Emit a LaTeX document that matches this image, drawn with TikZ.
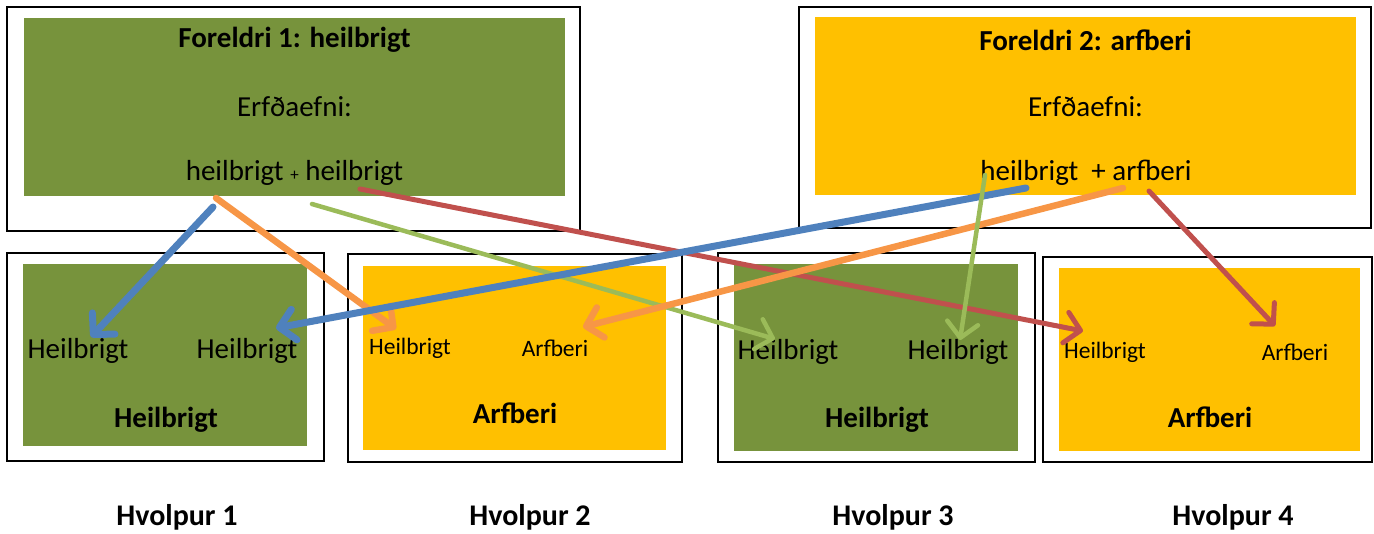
\documentclass[tikz,border=0pt]{standalone}
\usepackage{fontspec}
\setmainfont{Carlito}
\usetikzlibrary{arrows.meta}
\definecolor{cGreen}{HTML}{77933C}
\definecolor{cYellow}{HTML}{FFC000}
\definecolor{cBlue}{HTML}{4F81BD}
\definecolor{cOrange}{HTML}{F79646}
\definecolor{cLgreen}{HTML}{9BBB59}
\definecolor{cRed}{HTML}{C0504D}
\tikzset{
  frame/.style={draw=black, line width=2pt, fill=white},
  gfill/.style={fill=cGreen},
  yfill/.style={fill=cYellow},
  big/.style={inner sep=0pt, font=\fontsize{29}{34}\selectfont},
  bigb/.style={inner sep=0pt, font=\fontsize{29}{34}\selectfont\bfseries},
  small/.style={inner sep=0pt, font=\fontsize{23.5}{28}\selectfont},
  lab/.style={inner sep=0pt, font=\fontsize{30}{36}\selectfont\bfseries},
  arr/.style={-{Straight Barb[length=15pt,width=31pt,round]}, line cap=round},
}
\begin{document}
\begin{tikzpicture}[x=1pt,y=-1pt]
\useasboundingbox (0,0) rectangle (1374,533);
% parent boxes
\path[frame] (7,7) rectangle (580,231);
\path[gfill] (24,18) rectangle (565,196);
\path[frame] (799,7) rectangle (1371,228);
\path[yfill] (815,17) rectangle (1356,195);
% child boxes
\path[frame] (7,253) rectangle (324,461);
\path[gfill] (23,264) rectangle (307,446);
\path[frame] (348,254) rectangle (682,462);
\path[yfill] (363,266) rectangle (666,450);
\path[frame] (718,253) rectangle (1035,462);
\path[gfill] (734,264) rectangle (1018,451);
\path[frame] (1043,257) rectangle (1372,462);
\path[yfill] (1059,268) rectangle (1360,451);
% parent texts
\node[bigb] (p1t) at (294.5,40) {Foreldri 1: heilbrigt};
\node[big]  (p1e) at (294.5,107) {Erfðaefni:};
\node[big]  (p1g) at (294.5,173) {heilbrigt {\fontsize{17}{17}\selectfont+} heilbrigt};
\node[bigb] (p2t) at (1085.5,40) {Foreldri 2: arfberi};
\node[big]  (p2e) at (1085.5,107) {Erfðaefni:};
\node[big]  (p2g) at (1086,173) {heilbrigt\ \ + arfberi};
% child texts
\node[big]  (c1a) at (78,351) {Heilbrigt};
\node[big]  (c1b) at (247,351) {Heilbrigt};
\node[bigb] (c1t) at (166,420) {Heilbrigt};
\node[small] (c2a) at (410,348) {Heilbrigt};
\node[small] (c2b) at (555,348) {Arfberi};
\node[bigb] (c2t) at (515,413) {Arfberi};
\node[big]  (c3a) at (788,352) {Heilbrigt};
\node[big]  (c3b) at (958,352) {Heilbrigt};
\node[bigb] (c3t) at (877,420) {Heilbrigt};
\node[small] (c4a) at (1105,352) {Heilbrigt};
\node[small] (c4b) at (1295,352) {Arfberi};
\node[bigb] (c4t) at (1210,417) {Arfberi};
% labels
\node[lab] (h1) at (177,517) {Hvolpur 1};
\node[lab] (h2) at (530,517) {Hvolpur 2};
\node[lab] (h3) at (893,517) {Hvolpur 3};
\node[lab] (h4) at (1233,517) {Hvolpur 4};
% arrow end points
\coordinate (b1s) at (213,207); \coordinate (b1e) at (91,337);
\coordinate (o1s) at (216,198); \coordinate (o1e) at (396,329);
\coordinate (g1s) at (312,204); \coordinate (g1e) at (775,339);
\coordinate (r1s) at (360,189); \coordinate (r1e) at (1083,331);
\coordinate (b2s) at (1026,188); \coordinate (b2e) at (276,328);
\coordinate (o2s) at (1123,188); \coordinate (o2e) at (583,327);
\coordinate (g2s) at (985,175); \coordinate (g2e) at (960,340);
\coordinate (r2s) at (1149,191); \coordinate (r2e) at (1275,326);
% arrows
\draw[arr, cLgreen, line width=4.5pt] (g1s) -- (g1e);
\draw[arr, cRed, line width=5pt] (r1s) -- (r1e);
\draw[arr, cBlue, line width=7pt] (b1s) -- (b1e);
\draw[arr, cOrange, line width=6.5pt] (o1s) -- (o1e);
\draw[arr, cBlue, line width=7pt] (b2s) -- (b2e);
\draw[arr, cOrange, line width=6.5pt] (o2s) -- (o2e);
\draw[arr, cLgreen, line width=4.5pt] (g2s) -- (g2e);
\draw[arr, cRed, line width=5pt] (r2s) -- (r2e);
\end{tikzpicture}
\end{document}
